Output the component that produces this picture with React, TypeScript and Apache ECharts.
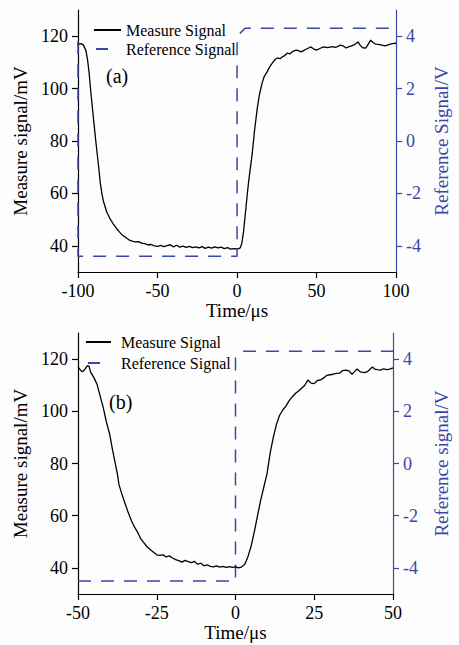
import React, { useEffect, useRef } from "react";
import * as echarts from "echarts";

// ---- Data ----
const legendNames = ["Measure Signal", "Reference Signal"];
const panelLabels = ["(a)", "(b)"];
const timeRangeA = [-100, 100];
const timeRangeB = [-50, 50];
const timeIntervalA = 50;
const timeIntervalB = 25;
const measureRange = [30, 130];
const measureTicks = [40, 60, 80, 100, 120];
const refRange = [-5, 5];
const refTicks = [-4, -2, 0, 2, 4];

// Panel (a): measure signal (Time/µs, mV)
const measureA: [number, number][] = [
  [-100, 117], [-98, 117.2], [-96.5, 116.5], [-95, 114.5], [-94, 111], [-93, 106], [-92, 99],
  [-91, 93], [-90, 87], [-89, 81], [-88, 75.5], [-87, 70], [-86, 64], [-85, 60], [-84, 57],
  [-83, 55], [-82, 53], [-80, 50.5], [-78, 48.5], [-76, 46.8], [-74, 45.3], [-72, 44],
  [-70, 43.2], [-68, 42.3], [-66, 41.8], [-64, 41.5], [-62, 41.6], [-60, 41], [-58, 40.8],
  [-56, 40.3], [-54, 40.5], [-52, 40], [-50, 39.8], [-48, 40.2], [-46, 39.7], [-44, 40.1],
  [-42, 40.4], [-40, 39.6], [-38, 40.2], [-36, 39.5], [-34, 39.9], [-32, 39.4], [-30, 39.8],
  [-28, 39.3], [-26, 39.6], [-24, 39.2], [-22, 39.7], [-20, 39], [-18, 39.5], [-16, 39.1],
  [-14, 39.6], [-12, 39.2], [-10, 39.5], [-8, 38.9], [-6, 39.3], [-4, 38.7], [-2, 38.9],
  [0, 38.8], [1, 38.9], [2, 39.2], [3, 41], [4, 45], [5, 51], [6, 57], [7, 63], [8, 68],
  [9.5, 75], [11, 84], [12.6, 92], [14, 97.5], [15.7, 102], [17, 104.5], [18.8, 106.3],
  [20.5, 108.3], [22.5, 110], [24, 111.2], [25.5, 111.7], [27, 111.4], [28.6, 112.2],
  [30, 112.6], [31.7, 113.6], [33, 113.2], [35, 114.2], [37.2, 114.7], [38.5, 114.5],
  [40.3, 114], [42, 114.6], [44, 115.2], [46.5, 115.9], [48, 115.2], [50, 114.7], [52, 115.3],
  [54.5, 115.9], [57, 115.6], [60, 116], [62, 115.7], [65, 116.6], [67, 116.2], [68.6, 115.5],
  [70, 115.9], [72, 116.3], [74, 116.8], [76, 117.8], [77.5, 116.5], [79, 115.6], [81, 115.5],
  [82.5, 117], [84, 118.5], [85.5, 117.6], [87, 117], [89, 116.9], [91, 116.6], [93, 116.3],
  [95, 116.7], [97, 117.1], [99.4, 117.4], [100, 117.3],
];

// Panel (a): reference signal (Time/µs, V)
const referenceA: [number, number][] = [
  [-100, 3.8], [-100, -4.4], [0, -4.4], [0, 4.0], [5, 4.3], [100, 4.3],
];

// Panel (b): measure signal (Time/µs, mV)
const measureB: [number, number][] = [
  [-50, 117], [-49, 115.5], [-48.5, 115.2], [-48, 115.8], [-47, 117.5], [-46.5, 117.2],
  [-46, 115], [-45, 113], [-44, 110.5], [-43, 106], [-42, 101.5], [-41, 96], [-40, 91.5],
  [-39, 85], [-38, 79], [-37.5, 76], [-37, 72], [-36, 68], [-35, 64.5], [-34, 61], [-33, 58],
  [-32, 55.5], [-31, 53.5], [-30, 51], [-29, 49.5], [-28, 48], [-27, 47], [-26, 46], [-25, 45],
  [-24, 44.8], [-23, 45], [-22, 44.2], [-21, 44.6], [-20, 43.8], [-19, 43.2], [-18, 42.8],
  [-17, 42.2], [-16, 42.9], [-15, 42.4], [-14, 42], [-13, 42.5], [-12, 41.4], [-11, 41.8],
  [-10, 40.8], [-9, 41.2], [-8, 40.6], [-7, 40.4], [-6, 40.8], [-5, 40.3], [-4, 40.6],
  [-3, 40.2], [-2, 40.5], [-1, 40.2], [0, 40.4], [1, 40], [2, 40.4], [3, 41.5], [4, 44.5],
  [5, 48.5], [6, 54], [7, 60], [8, 66], [9, 71], [10, 76], [11, 84], [12, 90], [13, 95],
  [14, 98.5], [15, 100.5], [16, 102], [17, 104], [18, 105.5], [19, 106.8], [20, 107.8],
  [21, 108.8], [22, 110], [23, 112], [24, 110.8], [25, 110.6], [26, 111.8], [27, 112],
  [28, 112.8], [29, 113.8], [30, 114], [31, 114.2], [32, 114.5], [33, 114.6], [34, 115.6],
  [35, 115.8], [36, 115.5], [37, 114.2], [38, 115.5], [38.6, 116.2], [39.5, 115.2], [40, 115],
  [41, 114.8], [42, 115.3], [43, 116.5], [43.5, 117], [44, 116.3], [45, 116], [46, 115.8],
  [47, 116.3], [48, 116], [49, 116.2], [50, 116.6],
];

// Panel (b): reference signal (Time/µs, V)
const referenceB: [number, number][] = [
  [-50, -4.5], [0, -4.5], [0, 4.1], [2.5, 4.3], [50, 4.3],
];

const BLUE = "#3a46a8";
const FONT = "'Liberation Serif', 'Times New Roman', serif";

function xAxis(gridIndex: number, range: number[], interval: number) {
  return {
    type: "value",
    gridIndex,
    min: range[0],
    max: range[1],
    interval,
    name: "Time/\u03bcs",
    nameLocation: "middle",
    nameGap: 25,
    nameTextStyle: { fontSize: 19, color: "#000", fontFamily: FONT },
    axisLine: { show: true, onZero: false, lineStyle: { color: "#000", width: 1.2 } },
    axisTick: { show: true, inside: false, length: 6, lineStyle: { color: "#000", width: 1.2 } },
    axisLabel: { fontSize: 18, color: "#000", fontFamily: FONT, margin: 10 },
    splitLine: { show: false },
  };
}

function leftAxis(gridIndex: number, nameGap: number) {
  return {
    type: "value",
    gridIndex,
    position: "left",
    min: measureRange[0],
    max: measureRange[1],
    name: "Measure signal/mV",
    nameLocation: "middle",
    nameGap,
    nameTextStyle: { fontSize: 19, color: "#000", fontFamily: FONT },
    axisLine: { show: true, onZero: false, lineStyle: { color: "#000", width: 1.2 } },
    axisTick: { show: true, inside: false, length: 6, customValues: measureTicks, lineStyle: { color: "#000", width: 1.2 } },
    axisLabel: { fontSize: 18, color: "#000", fontFamily: FONT, margin: 10, customValues: measureTicks },
    splitLine: { show: false },
  };
}

function rightAxis(gridIndex: number, name: string, nameGap: number) {
  return {
    type: "value",
    gridIndex,
    position: "right",
    min: refRange[0],
    max: refRange[1],
    name,
    nameLocation: "middle",
    nameGap,
    nameTextStyle: { fontSize: 19, color: BLUE, fontFamily: FONT },
    axisLine: { show: true, onZero: false, lineStyle: { color: BLUE, width: 1.2 } },
    axisTick: { show: true, inside: false, length: 6, customValues: refTicks, lineStyle: { color: BLUE, width: 1.2 } },
    axisLabel: { fontSize: 18, color: BLUE, fontFamily: FONT, margin: 10, customValues: refTicks },
    splitLine: { show: false },
  };
}

function measureSeries(xi: number, yi: number, data: [number, number][]) {
  return {
    name: legendNames[0],
    type: "line",
    xAxisIndex: xi,
    yAxisIndex: yi,
    data,
    symbol: "none",
    showSymbol: false,
    z: 3,
    lineStyle: { color: "#000", width: 1.3 },
    itemStyle: { color: "#000" },
  };
}

function referenceSeries(xi: number, yi: number, data: [number, number][]) {
  return {
    name: legendNames[1],
    type: "line",
    xAxisIndex: xi,
    yAxisIndex: yi,
    data,
    symbol: "none",
    showSymbol: false,
    z: 2,
    lineStyle: { color: BLUE, width: 1.5, type: [13, 10] },
    itemStyle: { color: BLUE },
  };
}

function legendData() {
  return [
    { name: legendNames[0] },
    { name: legendNames[1], lineStyle: { type: [12, 40], dashOffset: -2 } },
  ];
}

export default function App() {
  const ref = useRef<HTMLDivElement>(null);
  useEffect(() => {
    if (!ref.current) return;
    const chart = echarts.init(ref.current, undefined, { renderer: "svg" });
    const option: any = {
      animation: false,
      backgroundColor: "#fdfdfd",
      textStyle: { fontFamily: FONT },
      grid: [
        { left: 78, top: 10, width: 325, height: 262, containLabel: false },
        { left: 78, top: 333, width: 325, height: 261, containLabel: false },
      ],
      xAxis: [xAxis(0, timeRangeA, timeIntervalA), xAxis(1, timeRangeB, timeIntervalB)],
      yAxis: [
        leftAxis(0, 39),
        rightAxis(0, "Reference Signal/V", 32),
        leftAxis(1, 47),
        rightAxis(1, "Reference signal/V", 39),
      ],
      legend: [
        {
          left: 93, top: 22, orient: "vertical", padding: 0, itemWidth: 27, itemHeight: 12, itemGap: 3,
          selectedMode: false, data: legendData(),
          itemStyle: { opacity: 0 },
          textStyle: { fontSize: 16, color: "#000", fontFamily: FONT, lineHeight: 16 },
        },
        {
          left: 85, top: 334, orient: "vertical", padding: 0, itemWidth: 25, itemHeight: 12, itemGap: 5,
          selectedMode: false, data: legendData(),
          itemStyle: { opacity: 0 },
          textStyle: { fontSize: 16, color: "#000", fontFamily: FONT, lineHeight: 16, padding: [0, 0, 0, 5] },
        },
      ],
      graphic: [
        { type: "text", left: 106, top: 66, style: { text: panelLabels[0], fontSize: 20, fontFamily: FONT, fill: "#000" } },
        { type: "text", left: 109, top: 392, style: { text: panelLabels[1], fontSize: 20, fontFamily: FONT, fill: "#000" } },
      ],
      series: [
        referenceSeries(0, 1, referenceA),
        measureSeries(0, 0, measureA),
        referenceSeries(1, 3, referenceB),
        measureSeries(1, 2, measureB),
      ],
    };
    chart.setOption(option);
    return () => chart.dispose();
  }, []);
  return (
    <div
      ref={ref}
      style={{ position: "fixed", left: 0, top: 0, width: 459, height: 645 }}
    />
  );
}
